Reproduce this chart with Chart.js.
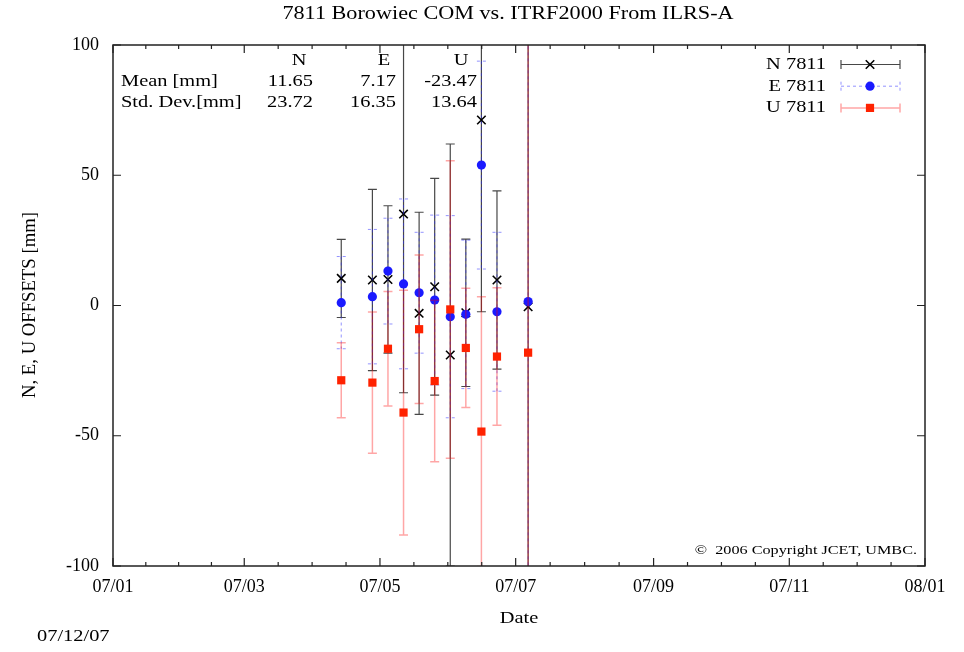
<!DOCTYPE html>
<html>
<head>
<meta charset="utf-8">
<title>7811 Borowiec COM vs. ITRF2000 From ILRS-A</title>
<script src="https://cdn.jsdelivr.net/npm/chart.js@4.4.1/dist/chart.umd.min.js"></script>
<style>
  html, body { margin: 0; padding: 0; background: #fff; }
  #wrap { width: 964px; height: 652px; }
</style>
</head>
<body>
<div id="wrap"><canvas id="chart" width="964" height="652"></canvas></div>
<script>
// weekly solutions, x = day of year 2007
const days = [102.6, 116.6, 123.6, 130.6, 137.6, 144.6, 151.6, 158.6, 165.6, 172.6, 186.6];

// offsets and error bars [mm]
const nVal = [10.4, 9.8, 10.0, 35.1, -3.0, 7.2, -19.0, -2.8, 71.2, 9.8, -0.5];
const nErr = [15.0, 34.8, 28.3, 68.6, 38.8, 41.6, 81.0, 28.3, 73.6, 34.2, 250];
const eVal = [1.1, 3.4, 13.2, 8.3, 4.9, 2.1, -4.3, -3.4, 53.9, -2.4, 1.5];
const eErr = [17.7, 25.8, 20.3, 32.6, 23.2, 32.6, 38.8, 28.5, 39.9, 30.5, 250];
const uVal = [-28.7, -29.6, -16.6, -41.1, -9.1, -29.0, -1.5, -16.3, -48.4, -19.6, -18.1];
const uErr = [14.4, 27.1, 22.0, 47.0, 28.5, 31.0, 57.1, 22.9, 51.8, 26.4, 250];

// axis ticks
const xTickDays = [0, 59, 120, 181, 243, 304, 365];
const xTickLabels = ['07/01', '07/03', '07/05', '07/07', '07/09', '07/11', '08/01'];
const yTicks = [-100, -50, 0, 50, 100];

// statistics box
const statCols = ['N', 'E', 'U'];
const statMean = ['11.65', '7.17', '-23.47'];
const statStd = ['23.72', '16.35', '13.64'];

const SERIF = '"Liberation Serif", "Times New Roman", serif';
const SX = 1.2; // the original text is a little wider than it is tall

// line style of each series' error bars (same order as datasets)
const barStyles = [
  { color: 'rgba(0,0,0,0.72)', width: 1.2, dash: [], cap: 4.5 },
  { color: 'rgba(40,40,255,0.5)', width: 1, dash: [3, 3], cap: 4.5 },
  { color: 'rgba(255,0,0,0.35)', width: 1.5, dash: [], cap: 4.5 }
];

function pts(vals) {
  return days.map((d, i) => ({ x: d, y: vals[i] }));
}

function text(ctx, str, x, y, align, size) {
  ctx.save();
  ctx.font = size + 'px ' + SERIF;
  ctx.fillStyle = '#000';
  ctx.textBaseline = 'middle';
  ctx.textAlign = align;
  ctx.translate(x, y);
  ctx.scale(SX, 1);
  ctx.fillText(str, 0, 0);
  ctx.restore();
}

// error bars are drawn just before the points of their series
const errorBars = {
  id: 'errorBars',
  beforeDatasetDraw(chart, args) {
    const ds = chart.data.datasets[args.index];
    const st = barStyles[args.index];
    const { ctx, chartArea: a, scales: { x, y } } = chart;
    ctx.save();
    ctx.beginPath();
    ctx.rect(a.left, a.top, a.right - a.left, a.bottom - a.top);
    ctx.clip();
    ctx.strokeStyle = st.color;
    ctx.lineWidth = st.width;
    ctx.setLineDash(st.dash);
    ds.data.forEach((p, i) => {
      const px = x.getPixelForValue(p.x);
      const top = y.getPixelForValue(p.y + ds.err[i]);
      const bot = y.getPixelForValue(p.y - ds.err[i]);
      ctx.beginPath();
      ctx.moveTo(px, top); ctx.lineTo(px, bot);
      ctx.moveTo(px - st.cap, top); ctx.lineTo(px + st.cap, top);
      ctx.moveTo(px - st.cap, bot); ctx.lineTo(px + st.cap, bot);
      ctx.stroke();
    });
    ctx.restore();
  }
};

// frame, inward tics and all the gnuplot style labels
const decorations = {
  id: 'decorations',
  afterDraw(chart) {
    const { ctx, chartArea: a, scales: { x, y } } = chart;

    ctx.save();
    ctx.strokeStyle = '#222';
    ctx.lineWidth = 1.5;
    ctx.strokeRect(a.left, a.top, a.right - a.left, a.bottom - a.top);

    ctx.lineWidth = 1.2;
    ctx.beginPath();
    yTicks.forEach(v => {
      const py = y.getPixelForValue(v);
      ctx.moveTo(a.left, py); ctx.lineTo(a.left + 8, py);
      ctx.moveTo(a.right, py); ctx.lineTo(a.right - 8, py);
    });
    xTickDays.forEach((v, i) => {
      const px = x.getPixelForValue(v);
      ctx.moveTo(px, a.bottom); ctx.lineTo(px, a.bottom - 8);
      ctx.moveTo(px, a.top); ctx.lineTo(px, a.top + 8);
      if (i < xTickDays.length - 1) {
        const step = (xTickDays[i + 1] - v) / 4;
        for (let k = 1; k < 4; k++) {
          const mx = x.getPixelForValue(v + k * step);
          ctx.moveTo(mx, a.bottom); ctx.lineTo(mx, a.bottom - 4);
          ctx.moveTo(mx, a.top); ctx.lineTo(mx, a.top + 4);
        }
      }
    });
    ctx.stroke();
    ctx.restore();

    // titles
    text(ctx, '7811 Borowiec COM vs. ITRF2000 From ILRS-A', 508, 14, 'center', 18.5);
    text(ctx, 'Date', 519, 619, 'center', 17);
    text(ctx, '07/12/07', 37, 637, 'left', 17);
    ctx.save();
    ctx.translate(30, 305);
    ctx.rotate(-Math.PI / 2);
    ctx.font = '17px ' + SERIF;
    ctx.fillStyle = '#000';
    ctx.textAlign = 'center';
    ctx.textBaseline = 'middle';
    ctx.scale(1.1, 1.15);
    ctx.fillText('N, E, U OFFSETS [mm]', 0, 0);
    ctx.restore();

    // statistics
    const colCenter = [299, 384, 461];
    const colRight = [313, 396, 477];
    text(ctx, 'Mean [mm]', 121, 82, 'left', 17);
    text(ctx, 'Std. Dev.[mm]', 121, 103, 'left', 17);
    statCols.forEach((c, i) => {
      text(ctx, c, colCenter[i], 61, 'center', 17);
      text(ctx, statMean[i], colRight[i], 82, 'right', 17);
      text(ctx, statStd[i], colRight[i], 103, 'right', 17);
    });

    // legend
    chart.data.datasets.forEach((ds, i) => {
      const ly = 64.5 + i * 21.7;
      const st = barStyles[i];
      text(ctx, ds.label, 826, ly, 'right', 17);
      ctx.save();
      ctx.strokeStyle = st.color;
      ctx.lineWidth = st.width;
      ctx.setLineDash(st.dash);
      ctx.beginPath();
      ctx.moveTo(841, ly); ctx.lineTo(900, ly);
      ctx.moveTo(841, ly - 4.5); ctx.lineTo(841, ly + 4.5);
      ctx.moveTo(900, ly - 4.5); ctx.lineTo(900, ly + 4.5);
      ctx.stroke();
      ctx.setLineDash([]);
      ctx.fillStyle = ds.backgroundColor;
      ctx.strokeStyle = ds.borderColor;
      ctx.lineWidth = ds.borderWidth;
      Chart.helpers.drawPoint(ctx, {
        pointStyle: ds.pointStyle, radius: ds.pointRadius, borderWidth: ds.borderWidth, rotation: 0
      }, 870, ly);
      ctx.restore();
    });

    text(ctx, '\u00A9  2006 Copyright JCET, UMBC.', 917, 550.5, 'right', 13.5);
  }
};

const ctx = document.getElementById('chart').getContext('2d');
const chart = new Chart(ctx, {
  type: 'scatter',
  data: {
    datasets: [
      {
        label: 'N 7811', data: pts(nVal), err: nErr, order: 3,
        pointStyle: 'crossRot', pointRadius: 6, borderWidth: 1.6,
        borderColor: '#000', backgroundColor: '#000'
      },
      {
        label: 'E 7811', data: pts(eVal), err: eErr, order: 2,
        pointStyle: 'circle', pointRadius: 4.6, borderWidth: 0,
        borderColor: '#1a1aff', backgroundColor: '#1a1aff'
      },
      {
        label: 'U 7811', data: pts(uVal), err: uErr, order: 1,
        pointStyle: 'rect', pointRadius: 5.8, borderWidth: 0,
        borderColor: '#ff2200', backgroundColor: '#ff2200'
      }
    ]
  },
  options: {
    responsive: false,
    animation: false,
    events: [],
    devicePixelRatio: 1,
    layout: { padding: { top: 45, right: 39, left: 0, bottom: 0 } },
    plugins: { legend: { display: false }, tooltip: { enabled: false } },
    scales: {
      x: {
        type: 'linear', min: 0, max: 365,
        afterBuildTicks: s => { s.ticks = xTickDays.map(v => ({ value: v })); },
        afterFit: s => { s.height = 86; },
        ticks: {
          callback: (v, i) => xTickLabels[i],
          font: { family: SERIF, size: 18 }, color: '#000',
          padding: 10, maxRotation: 0, autoSkip: false
        },
        grid: { display: false, drawTicks: false },
        border: { display: false }
      },
      y: {
        min: -100, max: 100,
        afterBuildTicks: s => { s.ticks = yTicks.map(v => ({ value: v })); },
        afterFit: s => { s.width = 113; },
        ticks: { font: { family: SERIF, size: 18 }, color: '#000', padding: 14 },
        grid: { display: false, drawTicks: false },
        border: { display: false }
      }
    }
  },
  plugins: [errorBars, decorations]
});
</script>
</body>
</html>
